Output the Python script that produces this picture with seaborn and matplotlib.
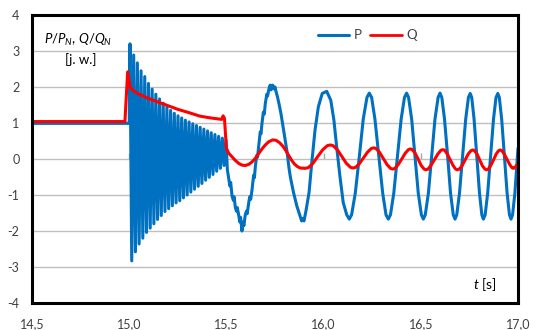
import matplotlib
matplotlib.use("Agg")
import matplotlib.pyplot as plt
import seaborn as sns
import pandas as pd

# ---------------- data ----------------
# P before the event
p_pre_t = [14.5, 15.0]
p_pre_v = [0.99, 0.99]

# high-frequency burst of P (peaks and troughs)
burst_peak_t = [15.004, 15.023, 15.042, 15.061, 15.080, 15.099, 15.118, 15.137, 15.156,
                15.175, 15.194, 15.213, 15.232, 15.251, 15.270, 15.289, 15.308, 15.327,
                15.346, 15.365, 15.384, 15.403, 15.422, 15.441, 15.460, 15.479, 15.498]
burst_peak_v = [3.20, 2.89, 2.67, 2.45, 2.29, 2.10, 1.94, 1.80, 1.67,
                1.55, 1.44, 1.35, 1.27, 1.20, 1.14, 1.08, 1.03, 0.98,
                0.93, 0.88, 0.83, 0.78, 0.73, 0.68, 0.63, 0.58, 0.53]
burst_trough_t = [15.013, 15.032, 15.051, 15.070, 15.089, 15.108, 15.127, 15.146, 15.165,
                  15.184, 15.203, 15.222, 15.241, 15.260, 15.279, 15.298, 15.317, 15.336,
                  15.355, 15.374, 15.393, 15.412, 15.431, 15.450, 15.469, 15.488]
burst_trough_v = [-2.83, -2.58, -2.36, -2.20, -2.04, -1.92, -1.80, -1.68, -1.57,
                  -1.46, -1.38, -1.30, -1.22, -1.16, -1.08, -1.00, -0.92, -0.84,
                  -0.76, -0.68, -0.59, -0.51, -0.43, -0.34, -0.26, -0.18]

# P after the burst (low-frequency swing)
p_post_t = [15.505, 15.512, 15.518, 15.522, 15.529, 15.536, 15.540, 15.546, 15.552, 15.556,
            15.563, 15.569, 15.573, 15.580, 15.586, 15.590, 15.597, 15.603, 15.607, 15.615,
            15.620, 15.625, 15.632, 15.640, 15.644, 15.649, 15.656, 15.660, 15.666, 15.674,
            15.678, 15.683, 15.690, 15.695, 15.700, 15.708, 15.712, 15.718, 15.725, 15.730,
            15.738, 15.745, 15.750, 15.755, 15.763, 15.772, 15.781, 15.790, 15.800, 15.812,
            15.822, 15.829, 15.844, 15.862, 15.879, 15.887, 15.893, 15.899, 15.909, 15.925,
            15.939, 15.956, 15.973, 15.993, 16.016, 16.037, 16.053, 16.067, 16.084, 16.101,
            16.119, 16.132,
            16.144, 16.163, 16.184, 16.204, 16.223, 16.235,
            16.247, 16.264, 16.284, 16.304, 16.321, 16.333,
            16.344, 16.361, 16.380, 16.399, 16.416, 16.427,
            16.437, 16.453, 16.470, 16.487, 16.503, 16.513,
            16.523, 16.539, 16.556, 16.573, 16.589, 16.599,
            16.608, 16.622, 16.638, 16.653, 16.667, 16.676,
            16.685, 16.699, 16.715, 16.731, 16.745, 16.754,
            16.762, 16.774, 16.788, 16.802, 16.814, 16.822,
            16.831, 16.844, 16.859, 16.874, 16.887, 16.896,
            16.904, 16.916, 16.930, 16.944, 16.956, 16.964,
            16.972, 16.984, 17.000]
p_post_v = [-0.30, -0.55, -0.75, -0.65, -1.03, -1.15, -1.05, -1.35, -1.45, -1.35,
            -1.55, -1.75, -1.62, -2.00, -1.75, -1.85, -1.55, -1.45, -1.52, -1.21,
            -1.05, -1.12, -0.85, -0.45, -0.52, -0.20, 0.10, 0.05, 0.35, 0.75,
            0.70, 0.99, 1.30, 1.25, 1.54, 1.80, 1.75, 1.93, 2.05, 1.92,
            2.05, 1.95, 2.00, 1.88, 1.72, 1.50, 1.25, 0.95, 0.62, 0.20,
            -0.25, -0.50, -0.90, -1.30, -1.58, -1.72, -1.65, -1.72, -1.45, -0.94,
            -0.11, 0.81, 1.45, 1.82, 1.88, 1.63, 1.08, 0.35, -0.48, -1.21,
            -1.55, -1.67,
            -1.55, -0.95, 0.08, 1.11, 1.71, 1.83,
            1.71, 1.11, 0.08, -0.95, -1.55, -1.67,
            -1.55, -0.95, 0.08, 1.11, 1.71, 1.83,
            1.71, 1.11, 0.08, -0.95, -1.55, -1.67,
            -1.55, -0.95, 0.08, 1.11, 1.71, 1.83,
            1.71, 1.11, 0.08, -0.95, -1.55, -1.67,
            -1.55, -0.95, 0.08, 1.11, 1.71, 1.82,
            1.71, 1.11, 0.08, -0.95, -1.55, -1.67,
            -1.55, -0.95, 0.08, 1.11, 1.71, 1.82,
            1.71, 1.11, 0.08, -0.95, -1.55, -1.67,
            -1.55, -0.95, 0.30]

# Q
q_t = [14.5, 14.978, 14.992, 15.004, 15.02, 15.05, 15.10, 15.15, 15.19, 15.25, 15.30,
       15.364, 15.42, 15.476, 15.483, 15.490, 15.500,
       15.512, 15.529, 15.546, 15.563, 15.580, 15.597, 15.615, 15.632, 15.649, 15.666,
       15.683, 15.700, 15.718, 15.738, 15.755, 15.772, 15.790, 15.805, 15.820, 15.835,
       15.850, 15.865, 15.880, 15.905,
       15.921, 15.944, 15.970, 15.996, 16.019, 16.035,
       16.049, 16.070, 16.094, 16.117, 16.138, 16.152,
       16.165, 16.184, 16.205, 16.226, 16.245, 16.258,
       16.270, 16.287, 16.307, 16.327, 16.344, 16.356,
       16.367, 16.383, 16.402, 16.420, 16.436, 16.447,
       16.456, 16.471, 16.487, 16.502, 16.517, 16.526,
       16.537, 16.552, 16.570, 16.588, 16.603, 16.614,
       16.623, 16.636, 16.651, 16.666, 16.679, 16.688,
       16.698, 16.712, 16.728, 16.744, 16.758, 16.768,
       16.776, 16.789, 16.803, 16.817, 16.830, 16.838,
       16.847, 16.859, 16.874, 16.888, 16.900, 16.909,
       16.917, 16.929, 16.943, 16.957, 16.969, 16.977,
       16.990, 17.000]
q_v = [1.04, 1.04, 2.42, 2.00, 1.90, 1.80, 1.68, 1.58, 1.50, 1.38, 1.30,
       1.19, 1.14, 1.10, 1.20, 1.13, 0.30,
       0.16, 0.06, -0.04, -0.12, -0.17, -0.18, -0.15, -0.08, 0.02, 0.15,
       0.28, 0.39, 0.48, 0.53, 0.52, 0.46, 0.36, 0.24, 0.10, -0.03,
       -0.14, -0.21, -0.25, -0.26,
       -0.24, -0.13, 0.07, 0.26, 0.37, 0.39,
       0.37, 0.26, 0.07, -0.12, -0.23, -0.25,
       -0.23, -0.13, 0.03, 0.19, 0.29, 0.31,
       0.29, 0.19, 0.015, -0.16, -0.26, -0.28,
       -0.26, -0.16, 0.00, 0.16, 0.26, 0.28,
       0.26, 0.16, -0.01, -0.18, -0.28, -0.30,
       -0.28, -0.18, -0.02, 0.14, 0.24, 0.26,
       0.24, 0.14, -0.02, -0.18, -0.28, -0.30,
       -0.28, -0.19, -0.025, 0.14, 0.23, 0.25,
       0.23, 0.14, -0.025, -0.19, -0.28, -0.30,
       -0.28, -0.19, -0.025, 0.14, 0.23, 0.25,
       0.23, 0.14, -0.005, -0.15, -0.24, -0.26,
       -0.20, -0.12]

x_ticks = [14.5, 15.0, 15.5, 16.0, 16.5, 17.0]
x_tick_labels = ["14,5", "15,0", "15,5", "16,0", "16,5", "17,0"]
y_ticks = [-4, -3, -2, -1, 0, 1, 2, 3, 4]
y_tick_labels = ["-4", "-3", "-2", "-1", "0", "1", "2", "3", "4"]
series_names = ["P", "Q"]
series_colors = ["#0070C0", "#FF0000"]

# ---------------- assemble ----------------
burst = sorted(list(zip(burst_peak_t, burst_peak_v)) + list(zip(burst_trough_t, burst_trough_v)))
p_t = p_pre_t + [b[0] for b in burst] + p_post_t
p_v = p_pre_v + [b[1] for b in burst] + p_post_v

df = pd.concat([
    pd.DataFrame({"t": p_t, "v": p_v, "series": "P"}),
    pd.DataFrame({"t": q_t, "v": q_v, "series": "Q"}),
], ignore_index=True)

# ---------------- plot ----------------
sns.set_theme(style="white")
plt.rcParams["font.family"] = ["Lato", "DejaVu Sans"]
plt.rcParams["mathtext.fontset"] = "custom"
plt.rcParams["mathtext.rm"] = "Lato"
plt.rcParams["mathtext.it"] = "Lato:italic"

fig = plt.figure(figsize=(5.35, 3.3), dpi=100)
ax = fig.add_axes([32 / 535, 1 - 303 / 330, 486 / 535, 288 / 330])

sns.lineplot(data=df, x="t", y="v", hue="series", hue_order=series_names,
             palette=dict(zip(series_names, series_colors)), estimator=None,
             sort=False, linewidth=2.2, ax=ax)
for ln in ax.lines:
    ln.set_solid_joinstyle("round")
    if ln.get_label() == "Q":
        ln.set_linewidth(2.0)

ax.set_xlim(14.5, 17.0)
ax.set_ylim(-4, 4)
ax.set_xticks(x_ticks)
ax.set_xticklabels(x_tick_labels)
ax.set_yticks(y_ticks)
ax.set_yticklabels(y_tick_labels)
ax.set_xlabel("")
ax.set_ylabel("")
ax.grid(axis="y", color="#bfbfbf", linewidth=1.0)
ax.set_axisbelow(True)
ax.tick_params(axis="both", length=0, labelsize=9, labelcolor="#404040")
ax.tick_params(axis="x", pad=11)
ax.tick_params(axis="y", pad=9)
for s in ax.spines.values():
    s.set_visible(True)
    s.set_color("black")
    s.set_linewidth(2.2)

# small ticks on the zero line
sec = ax.secondary_xaxis(0.5)
sec.set_xticks(x_ticks)
sec.set_xticklabels([])
sec.spines["bottom"].set_visible(False)
sec.spines["top"].set_visible(False)
sec.tick_params(direction="out", length=4, width=1, color="#a6a6a6",
                labelbottom=False, labeltop=False)

# legend
handles, labels = ax.get_legend_handles_labels()
ax.legend(handles, labels, loc="center", bbox_to_anchor=(0.69, 0.93), ncol=2,
          frameon=False, fontsize=9.5, handlelength=2.4, handletextpad=0.35,
          columnspacing=0.6, labelcolor="#404040")

ax.text(0.025, 0.913, r"$P/P_N$, $Q/Q_N$", transform=ax.transAxes, fontsize=9.5,
        ha="left", va="center", color="black")
ax.text(0.10, 0.846, "[j. w.]", transform=ax.transAxes, fontsize=9.5,
        ha="center", va="center", color="black")
ax.text(0.957, 0.0625, r"$t$ [s]", transform=ax.transAxes, fontsize=10,
        ha="right", va="center", color="black")

fig.savefig("out.png", dpi=100)
